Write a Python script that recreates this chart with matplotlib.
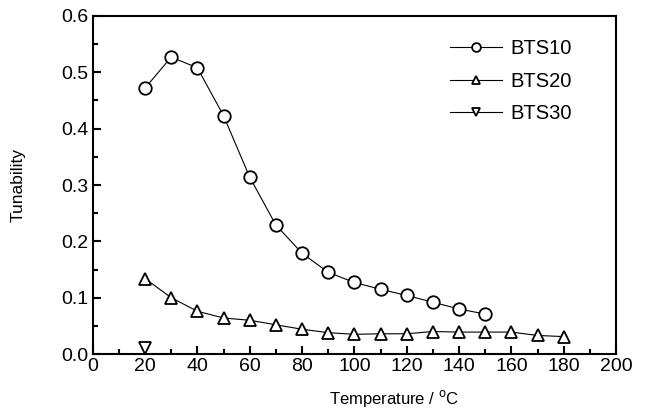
import matplotlib
matplotlib.use("Agg")
import matplotlib.pyplot as plt
from matplotlib.ticker import MultipleLocator, FormatStrFormatter

plt.rcParams['font.family'] = ['Liberation Sans', 'DejaVu Sans']

temp10 = [20, 30, 40, 50, 60, 70, 80, 90, 100, 110, 120, 130, 140, 150]
bts10 = [0.472, 0.527, 0.508, 0.423, 0.314, 0.229, 0.179, 0.145, 0.127,
         0.115, 0.104, 0.092, 0.080, 0.071]
temp20 = [20, 30, 40, 50, 60, 70, 80, 90, 100, 110, 120, 130, 140, 150,
          160, 170, 180]
bts20 = [0.134, 0.100, 0.076, 0.064, 0.060, 0.052, 0.044, 0.038, 0.035,
         0.036, 0.036, 0.040, 0.039, 0.039, 0.039, 0.033, 0.031]
temp30 = [20]
bts30 = [0.010]

fig = plt.figure(figsize=(6.47, 4.2), dpi=100)
ax = fig.add_axes([0.1433, 0.157, 0.8088, 0.805])

mk = dict(color='black', linewidth=0.8, markerfacecolor='white',
          markeredgecolor='black', markeredgewidth=1.3, markersize=9)
ax.plot(temp10, bts10, marker='o', label='BTS10', **mk)
ax.plot(temp20, bts20, marker='^', label='BTS20', **mk)
ax.plot(temp30, bts30, marker='v', label='BTS30', **mk)

ax.set_xlim(0, 200)
ax.set_ylim(0, 0.6)
ax.xaxis.set_major_locator(MultipleLocator(20))
ax.xaxis.set_minor_locator(MultipleLocator(10))
ax.yaxis.set_major_locator(MultipleLocator(0.1))
ax.yaxis.set_minor_locator(MultipleLocator(0.05))
ax.yaxis.set_major_formatter(FormatStrFormatter('%.1f'))
ax.tick_params(which='both', direction='in', top=False, right=False,
               width=1.5, labelsize=14, pad=3)
ax.tick_params(which='major', length=6)
ax.tick_params(which='minor', length=3.5)
for s in ax.spines.values():
    s.set_linewidth(1.5)

ax.set_xlabel('Temperature / $^{\\rm o}$C', fontsize=12)
ax.set_ylabel('Tunability', fontsize=12.5)
ax.xaxis.set_label_coords(0.576, -0.100)
ax.yaxis.set_label_coords(-0.129, 0.5)

leg = ax.legend(loc='upper left', frameon=False, fontsize=14.5,
                handlelength=2.6, markerscale=0.7, labelspacing=0.68,
                handletextpad=0.4, borderpad=0, borderaxespad=0,
                bbox_to_anchor=(0.683, 0.932))

fig.savefig('out.png', dpi=100)
